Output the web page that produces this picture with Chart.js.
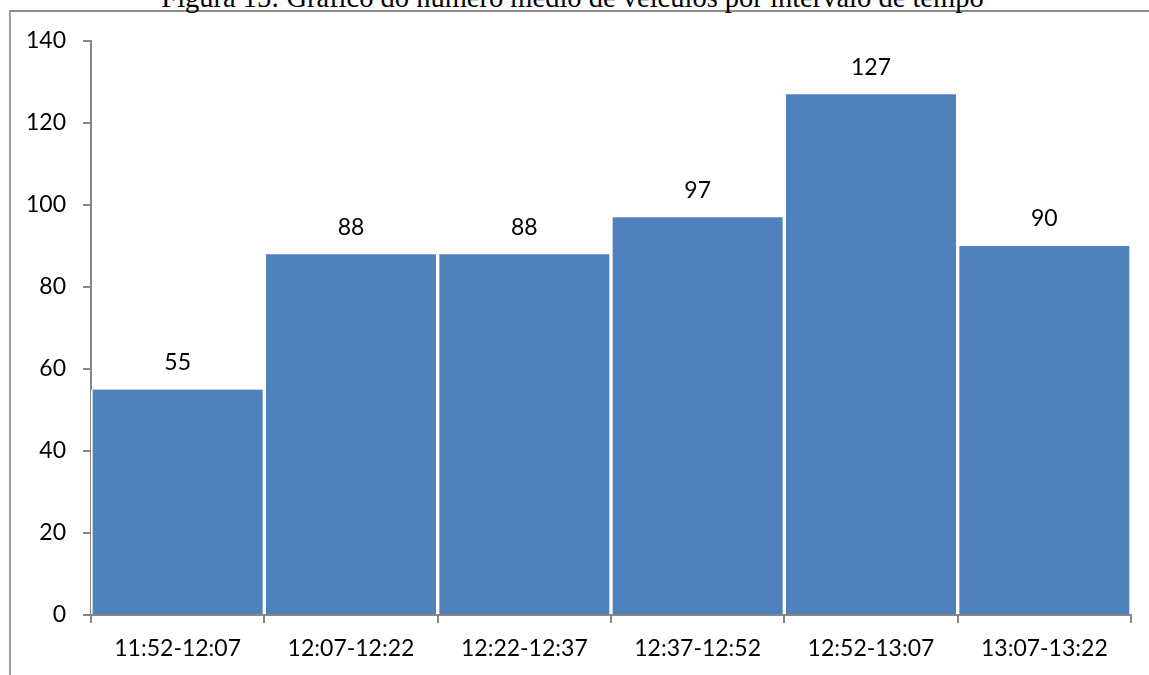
<!DOCTYPE html>
<html>
<head>
<meta charset="utf-8">
<script src="https://cdn.jsdelivr.net/npm/chart.js@4"></script>
<style>
  html, body { margin: 0; padding: 0; background: #fff; overflow: hidden; }
  #wrap { position: relative; width: 1149px; height: 675px; overflow: hidden; }
  #frame {
    position: absolute; left: 9px; top: 10px; width: 1200px; height: 700px;
    border-left: 2px solid #a0a0a0; border-top: 2px solid #8c8c8c;
  }
  #title {
    position: absolute; left: 0; width: 1145px; top: -16px;
    text-align: center; font-family: 'Liberation Serif', serif;
    font-size: 28.5px; line-height: 28.5px; color: #000; white-space: nowrap;
  }
  canvas { position: absolute; left: 0; top: 0; }
</style>
</head>
<body>
<div id="wrap">
  <div id="frame"></div>
  <div id="title">Figura 15: Gráfico do número médio de veículos por intervalo de tempo</div>
  <canvas id="c" width="1149" height="675"></canvas>
</div>
<script>
// ─── Data ─────────────────────────────────────────────────────────────────
const intervals = ['11:52-12:07', '12:07-12:22', '12:22-12:37', '12:37-12:52', '12:52-13:07', '13:07-13:22'];
const avgVehicles = [55, 88, 88, 97, 127, 90];
const yTicks = [0, 20, 40, 60, 80, 100, 120, 140];

const FONT = "Lato, 'Open Sans', sans-serif";
const AXIS = '#868686';

// value labels above each bar
const barLabels = {
  id: 'barLabels',
  afterDatasetsDraw(chart) {
    const { ctx } = chart;
    const meta = chart.getDatasetMeta(0);
    ctx.save();
    ctx.font = `23px ${FONT}`;
    ctx.fillStyle = '#000';
    ctx.textAlign = 'center';
    ctx.textBaseline = 'middle';
    meta.data.forEach((bar, i) => {
      ctx.fillText(String(avgVehicles[i]), bar.x, bar.y - 27);
    });
    ctx.restore();
  },
};

new Chart(document.getElementById('c'), {
  type: 'bar',
  data: {
    labels: intervals,
    datasets: [{
      data: avgVehicles,
      backgroundColor: '#4F81BD',
      borderColor: '#ffffff',
      borderWidth: { left: 2, right: 2, top: 0, bottom: 0 },
      borderSkipped: false,
      barPercentage: 1,
      categoryPercentage: 1,
    }],
  },
  options: {
    responsive: false,
    animation: false,
    layout: { padding: { left: 9, right: 18, top: 41, bottom: 0 } },
    plugins: {
      legend: { display: false },
      tooltip: { enabled: false },
      title: { display: false },
    },
    scales: {
      x: {
        grid: { display: true, drawOnChartArea: false, color: AXIS, lineWidth: 2, tickLength: 8, offset: true },
        border: { display: true, color: AXIS, width: 2 },
        ticks: { color: '#000', font: { family: FONT, size: 23 }, padding: 12, maxRotation: 0 },
        afterFit: s => { s.height = 60; },
      },
      y: {
        min: 0,
        max: 140,
        afterBuildTicks: s => { s.ticks = yTicks.map(v => ({ value: v })); },
        grid: { display: true, drawOnChartArea: false, color: AXIS, lineWidth: 2, tickLength: 8 },
        border: { display: true, color: AXIS, width: 2 },
        ticks: { color: '#000', font: { family: FONT, size: 23 }, padding: 17 },
        afterFit: s => { s.width = 82; },
      },
    },
  },
  plugins: [barLabels],
});
</script>
</body>
</html>
